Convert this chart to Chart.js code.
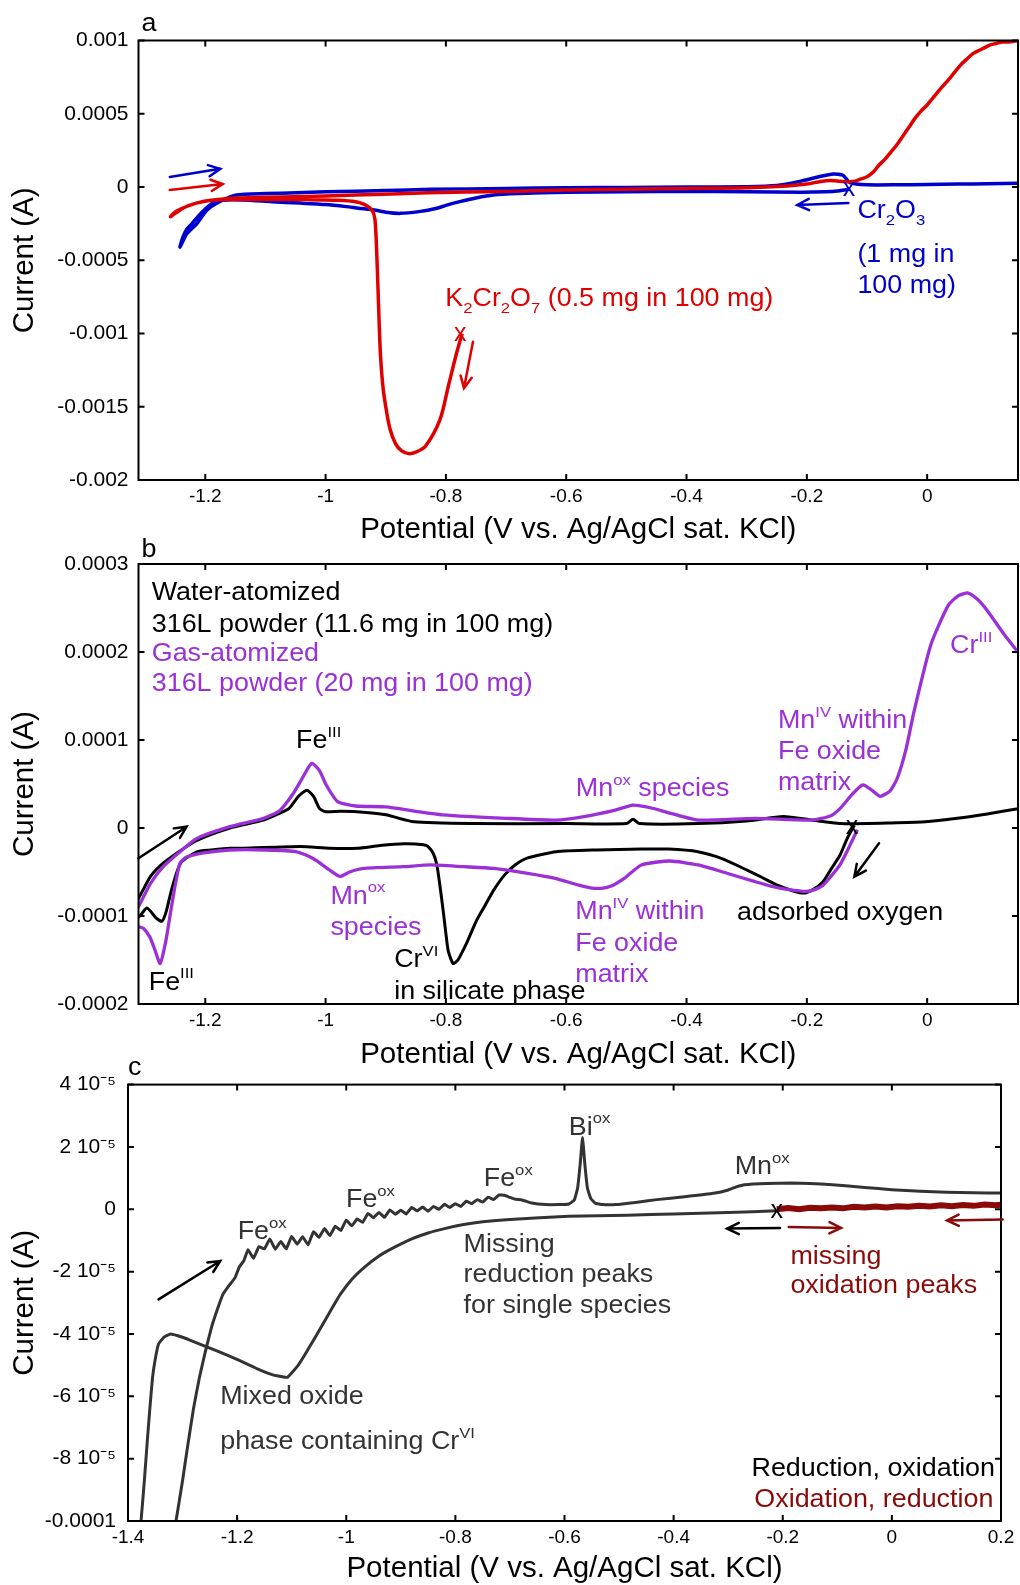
<!DOCTYPE html>
<html>
<head>
<meta charset="utf-8">
<script src="https://cdn.jsdelivr.net/npm/chart.js@4/dist/chart.umd.min.js"></script>
<style>
  html, body { margin: 0; padding: 0; background: #fff; }
  #wrap { position: relative; width: 1020px; height: 1585px; overflow: hidden; }
  canvas { position: absolute; left: 0; }
</style>
</head>
<body>
<div id="wrap">
  <canvas id="chartA" width="1020" height="550" style="top:0px"></canvas>
  <canvas id="chartB" width="1020" height="540" style="top:535px"></canvas>
  <canvas id="chartC" width="1020" height="527" style="top:1060px"></canvas>
</div>
<script>
const FONT = '"Liberation Sans", Arial, Helvetica, sans-serif';
Chart.defaults.font.family = FONT;
Chart.defaults.color = '#000';

// ---- panel a: potential (V), current (A)
const k2cr2o7Scan = [
  [-0.773,-0.00100],[-0.782,-0.00113],[-0.796,-0.00136],[-0.810,-0.00159],[-0.834,-0.00177],
  [-0.850,-0.00181],[-0.862,-0.00182],[-0.874,-0.00180],[-0.884,-0.00175],[-0.893,-0.00165],
  [-0.900,-0.00150],[-0.905,-0.00135],[-0.909,-0.00113],[-0.912,-0.00080],[-0.915,-0.00045],
  [-0.918,-0.00022],[-0.923,-0.000157],[-0.935,-0.00012],[-0.950,-0.00010],[-0.980,-0.00009],
  [-1.030,-0.000086],[-1.090,-0.000085],[-1.150,-0.000085],[-1.190,-0.00009],[-1.215,-0.00011],
  [-1.235,-0.00014],[-1.250,-0.00017],[-1.258,-0.000203],[-1.250,-0.00018],[-1.235,-0.00014],
  [-1.215,-0.00011],[-1.190,-0.00009],[-1.150,-0.000075],[-1.100,-0.00007],[-1.050,-0.000066],
  [-0.950,-0.000055],[-0.830,-0.00004],[-0.700,-0.00003],[-0.600,-0.00002],[-0.500,-0.000015],
  [-0.400,-0.00001],[-0.300,-0.000005],[-0.233,0.000007],[-0.200,0.00002],[-0.177,0.000038],
  [-0.161,0.000045],[-0.145,0.00004],[-0.133,0.000035],[-0.120,0.00004],[-0.110,0.000055],
  [-0.100,0.00007],[-0.090,0.0001],[-0.080,0.00015],[-0.070,0.00019],[-0.060,0.00024],
  [-0.050,0.00029],[-0.040,0.00035],[-0.030,0.00041],[-0.020,0.00047],[-0.010,0.00052],
  [0.000,0.00056],[0.010,0.00061],[0.020,0.00066],[0.035,0.00073],[0.045,0.00078],
  [0.055,0.00083],[0.065,0.00087],[0.076,0.00091],[0.085,0.00093],[0.095,0.00095],
  [0.105,0.00097],[0.115,0.00098],[0.125,0.00099],[0.135,0.00099],[0.151,0.00100]
];
const cr2o3Scan = [
  [-0.129,-0.000014],[-0.145,-0.000025],[-0.170,-0.000033],[-0.210,-0.000036],[-0.300,-0.000032],
  [-0.400,-0.00003],[-0.500,-0.000032],[-0.600,-0.000036],[-0.680,-0.000045],[-0.721,-0.000055],
  [-0.750,-0.000075],[-0.777,-0.0001],[-0.800,-0.000125],[-0.815,-0.000145],[-0.845,-0.000168],
  [-0.876,-0.00018],[-0.900,-0.000172],[-0.919,-0.000157],[-0.945,-0.000145],[-0.966,-0.000134],
  [-1.000,-0.00012],[-1.042,-0.00011],[-1.090,-0.0001],[-1.136,-0.000089],[-1.165,-0.000088],
  [-1.184,-0.0001],[-1.200,-0.00015],[-1.212,-0.0002],[-1.222,-0.00025],[-1.231,-0.00029],
  [-1.238,-0.00035],[-1.242,-0.00041],[-1.231,-0.00032],[-1.214,-0.00025],[-1.198,-0.00016],
  [-1.181,-0.00011],[-1.148,-0.000055],[-1.100,-0.000045],[-1.048,-0.000039],[-1.000,-0.000033],
  [-0.900,-0.000024],[-0.826,-0.000016],[-0.700,-0.00001],[-0.600,-0.000005],[-0.500,-0.000003],
  [-0.400,0],[-0.300,0.000002],[-0.250,0.00001],[-0.210,0.00004],[-0.180,0.00007],
  [-0.156,0.000089],[-0.140,0.00008],[-0.128,0.00003],[-0.100,0.000015],[-0.050,0.000015],
  [0.000,0.000017],[0.050,0.00002],[0.100,0.000022],[0.151,0.000025]
];

// ---- panel b
const gasAtomScan = [
  [-0.116,-0.02e-4],[-0.130,-0.22e-4],[-0.145,-0.42e-4],[-0.160,-0.55e-4],[-0.173,-0.65e-4],
  [-0.187,-0.70e-4],[-0.201,-0.72e-4],[-0.230,-0.70e-4],[-0.260,-0.66e-4],[-0.286,-0.61e-4],
  [-0.330,-0.52e-4],[-0.381,-0.42e-4],[-0.428,-0.375e-4],[-0.475,-0.42e-4],[-0.503,-0.57e-4],
  [-0.525,-0.66e-4],[-0.541,-0.685e-4],[-0.560,-0.68e-4],[-0.579,-0.65e-4],[-0.620,-0.57e-4],
  [-0.664,-0.515e-4],[-0.721,-0.46e-4],[-0.770,-0.44e-4],[-0.826,-0.42e-4],[-0.870,-0.44e-4],
  [-0.937,-0.46e-4],[-0.960,-0.50e-4],[-0.976,-0.55e-4],[-0.993,-0.48e-4],[-1.020,-0.35e-4],
  [-1.048,-0.27e-4],[-1.100,-0.25e-4],[-1.159,-0.25e-4],[-1.200,-0.28e-4],[-1.231,-0.33e-4],
  [-1.242,-0.40e-4],[-1.250,-0.65e-4],[-1.258,-0.97e-4],[-1.266,-1.30e-4],[-1.275,-1.54e-4],
  [-1.283,-1.40e-4],[-1.292,-1.24e-4],[-1.303,-1.14e-4],[-1.311,-1.12e-4],[-1.325,-1.05e-4],
  [-1.325,-1.00e-4],[-1.311,-0.89e-4],[-1.291,-0.63e-4],[-1.270,-0.44e-4],[-1.242,-0.27e-4],
  [-1.214,-0.12e-4],[-1.159,0.015e-4],[-1.103,0.11e-4],[-1.076,0.20e-4],[-1.054,0.39e-4],
  [-1.040,0.55e-4],[-1.023,0.735e-4],[-1.010,0.65e-4],[-0.999,0.489e-4],[-0.980,0.30e-4],
  [-0.950,0.25e-4],[-0.900,0.24e-4],[-0.850,0.19e-4],[-0.806,0.15e-4],[-0.700,0.11e-4],
  [-0.617,0.09e-4],[-0.570,0.13e-4],[-0.520,0.20e-4],[-0.489,0.26e-4],[-0.460,0.23e-4],
  [-0.428,0.17e-4],[-0.381,0.09e-4],[-0.286,0.11e-4],[-0.192,0.09e-4],[-0.160,0.14e-4],
  [-0.145,0.22e-4],[-0.125,0.38e-4],[-0.107,0.49e-4],[-0.092,0.43e-4],[-0.078,0.36e-4],
  [-0.062,0.42e-4],[-0.050,0.56e-4],[-0.035,0.90e-4],[-0.022,1.32e-4],[0.006,2.08e-4],
  [0.035,2.53e-4],[0.052,2.64e-4],[0.068,2.67e-4],[0.085,2.59e-4],[0.101,2.46e-4],
  [0.129,2.19e-4],[0.151,2.00e-4]
];
const waterAtomScan = [
  [-0.121,0.03e-4],[-0.133,-0.12e-4],[-0.145,-0.31e-4],[-0.160,-0.47e-4],[-0.173,-0.61e-4],
  [-0.190,-0.70e-4],[-0.206,-0.74e-4],[-0.225,-0.71e-4],[-0.249,-0.65e-4],[-0.275,-0.56e-4],
  [-0.305,-0.46e-4],[-0.340,-0.35e-4],[-0.381,-0.27e-4],[-0.430,-0.24e-4],[-0.475,-0.24e-4],
  [-0.550,-0.25e-4],[-0.617,-0.27e-4],[-0.664,-0.34e-4],[-0.685,-0.42e-4],[-0.702,-0.53e-4],
  [-0.720,-0.70e-4],[-0.735,-0.88e-4],[-0.749,-1.05e-4],[-0.765,-1.30e-4],[-0.780,-1.50e-4],
  [-0.788,-1.54e-4],[-0.796,-1.40e-4],[-0.800,-1.20e-4],[-0.804,-0.97e-4],[-0.810,-0.65e-4],
  [-0.815,-0.42e-4],[-0.821,-0.29e-4],[-0.830,-0.21e-4],[-0.837,-0.19e-4],[-0.870,-0.18e-4],
  [-0.910,-0.20e-4],[-0.948,-0.23e-4],[-0.993,-0.23e-4],[-1.042,-0.21e-4],[-1.136,-0.23e-4],
  [-1.159,-0.23e-4],[-1.190,-0.25e-4],[-1.214,-0.27e-4],[-1.241,-0.40e-4],[-1.256,-0.70e-4],
  [-1.265,-0.95e-4],[-1.272,-1.06e-4],[-1.282,-1.02e-4],[-1.297,-0.91e-4],[-1.311,-1.01e-4],
  [-1.325,-0.95e-4],[-1.325,-0.92e-4],[-1.311,-0.80e-4],[-1.291,-0.55e-4],[-1.270,-0.40e-4],
  [-1.242,-0.26e-4],[-1.214,-0.14e-4],[-1.159,0.0],[-1.103,0.09e-4],[-1.076,0.17e-4],
  [-1.061,0.22e-4],[-1.045,0.36e-4],[-1.031,0.43e-4],[-1.020,0.36e-4],[-1.010,0.22e-4],
  [-1.000,0.185e-4],[-0.976,0.19e-4],[-0.948,0.185e-4],[-0.900,0.15e-4],[-0.853,0.07e-4],
  [-0.758,0.05e-4],[-0.600,0.05e-4],[-0.500,0.05e-4],[-0.489,0.10e-4],[-0.478,0.05e-4],
  [-0.381,0.05e-4],[-0.300,0.08e-4],[-0.239,0.13e-4],[-0.192,0.09e-4],[-0.145,0.05e-4],
  [-0.050,0.06e-4],[-0.003,0.07e-4],[0.050,0.11e-4],[0.100,0.16e-4],[0.151,0.22e-4]
];

// ---- panel c
const reductionFirstScan = [
  [-0.211,-0.05e-5],[-0.300,-0.10e-5],[-0.400,-0.15e-5],[-0.485,-0.19e-5],[-0.592,-0.22e-5],
  [-0.700,-0.33e-5],[-0.750,-0.40e-5],[-0.785,-0.49e-5],[-0.820,-0.62e-5],[-0.850,-0.76e-5],
  [-0.880,-0.95e-5],[-0.914,-1.24e-5],[-0.940,-1.50e-5],[-0.968,-1.88e-5],[-0.990,-2.25e-5],
  [-1.011,-2.73e-5],[-1.027,-3.20e-5],[-1.043,-3.69e-5],[-1.060,-4.20e-5],[-1.075,-4.64e-5],
  [-1.090,-5.05e-5],[-1.108,-5.39e-5],[-1.125,-5.35e-5],[-1.140,-5.28e-5],[-1.165,-5.10e-5],
  [-1.194,-4.86e-5],[-1.215,-4.70e-5],[-1.237,-4.54e-5],[-1.265,-4.35e-5],[-1.290,-4.17e-5],
  [-1.310,-4.05e-5],[-1.322,-4.00e-5],[-1.334,-4.10e-5],[-1.344,-4.32e-5],[-1.350,-4.80e-5],
  [-1.355,-5.39e-5],[-1.360,-6.40e-5],[-1.365,-7.52e-5],[-1.370,-8.70e-5],[-1.376,-9.97e-5],
  [-1.380,-10.5e-5],[-1.318,-10.5e-5],[-1.312,-10.0e-5],[-1.300,-8.70e-5],[-1.290,-7.52e-5],
  [-1.280,-6.40e-5],[-1.269,-5.39e-5],[-1.258,-4.55e-5],[-1.247,-3.79e-5],[-1.236,-3.20e-5],
  [-1.226,-2.73e-5],[-1.215,-2.45e-5],[-1.204,-2.20e-5],[-1.196,-1.85e-5],[-1.188,-1.66e-5],
  [-1.180,-1.30e-5],[-1.170,-1.57e-5],[-1.160,-1.20e-5],[-1.150,-1.27e-5],[-1.140,-0.95e-5],
  [-1.130,-1.28e-5],[-1.120,-1.03e-5],[-1.110,-1.27e-5],[-1.100,-0.87e-5],[-1.090,-1.12e-5],
  [-1.080,-0.88e-5],[-1.070,-1.14e-5],[-1.060,-0.72e-5],[-1.050,-0.90e-5],[-1.040,-0.62e-5],
  [-1.030,-0.84e-5],[-1.020,-0.54e-5],[-1.010,-0.68e-5],[-1.000,-0.35e-5],[-0.990,-0.53e-5],
  [-0.980,-0.31e-5],[-0.970,-0.42e-5],[-0.960,-0.13e-5],[-0.950,-0.27e-5],[-0.940,-0.10e-5],
  [-0.930,-0.26e-5],[-0.920,-0.02e-5],[-0.910,-0.16e-5],[-0.900,-0.03e-5],[-0.890,-0.15e-5],
  [-0.880,0.06e-5],[-0.870,-0.05e-5],[-0.860,0.07e-5],[-0.850,-0.06e-5],[-0.840,0.09e-5],
  [-0.830,0.00e-5],[-0.820,0.16e-5],[-0.810,0.06e-5],[-0.800,0.18e-5],[-0.790,0.09e-5],
  [-0.780,0.26e-5],[-0.770,0.18e-5],[-0.760,0.31e-5],[-0.750,0.23e-5],[-0.740,0.39e-5],
  [-0.730,0.31e-5],[-0.720,0.46e-5],[-0.710,0.45e-5],[-0.700,0.38e-5],
  [-0.690,0.32e-5],[-0.678,0.30e-5],[-0.660,0.20e-5],[-0.635,0.15e-5],[-0.610,0.15e-5],
  [-0.592,0.17e-5],[-0.582,0.30e-5],[-0.576,0.68e-5],[-0.571,1.50e-5],[-0.567,2.30e-5],
  [-0.563,1.50e-5],[-0.558,0.68e-5],[-0.552,0.35e-5],[-0.544,0.20e-5],[-0.530,0.15e-5],
  [-0.506,0.15e-5],[-0.470,0.22e-5],[-0.431,0.31e-5],[-0.380,0.40e-5],[-0.324,0.52e-5],
  [-0.300,0.62e-5],[-0.285,0.72e-5],[-0.270,0.79e-5],[-0.230,0.83e-5],[-0.184,0.84e-5],
  [-0.150,0.83e-5],[-0.109,0.79e-5],[-0.050,0.70e-5],[0.000,0.63e-5],[0.052,0.58e-5],
  [0.100,0.55e-5],[0.150,0.53e-5],[0.200,0.52e-5]
];
const oxidationFirstScan = [
  [-0.211,0.00e-5],[-0.190,0.04e-5],[-0.170,0.00e-5],[-0.150,0.05e-5],[-0.130,0.03e-5],
  [-0.110,0.06e-5],[-0.090,0.03e-5],[-0.070,0.08e-5],[-0.050,0.06e-5],[-0.030,0.09e-5],
  [-0.010,0.06e-5],[0.010,0.10e-5],[0.030,0.08e-5],[0.050,0.11e-5],[0.070,0.09e-5],
  [0.090,0.13e-5],[0.110,0.10e-5],[0.130,0.14e-5],[0.150,0.11e-5],[0.170,0.15e-5],
  [0.190,0.13e-5],[0.203,0.15e-5]
];

// ---- ticks
const xTicksAB = [-1.2, -1, -0.8, -0.6, -0.4, -0.2, 0];
const xLabelsAB = ['-1.2', '-1', '-0.8', '-0.6', '-0.4', '-0.2', '0'];
const yTicksA = [-0.002, -0.0015, -0.001, -0.0005, 0, 0.0005, 0.001];
const yLabelsA = ['-0.002', '-0.0015', '-0.001', '-0.0005', '0', '0.0005', '0.001'];
const yTicksB = [-0.0002, -0.0001, 0, 0.0001, 0.0002, 0.0003];
const yLabelsB = ['-0.0002', '-0.0001', '0', '0.0001', '0.0002', '0.0003'];
const xTicksC = [-1.4, -1.2, -1, -0.8, -0.6, -0.4, -0.2, 0, 0.2];
const xLabelsC = ['-1.4', '-1.2', '-1', '-0.8', '-0.6', '-0.4', '-0.2', '0', '0.2'];
const yTicksC = [-0.0001, -8e-5, -6e-5, -4e-5, -2e-5, 0, 2e-5, 4e-5];
const yLabelsC = ['-0.0001', '-8 10\u207B\u2075', '-6 10\u207B\u2075', '-4 10\u207B\u2075', '-2 10\u207B\u2075', '0', '2 10\u207B\u2075', '4 10\u207B\u2075'];

const RED = '#e00000', BLUE = '#0000cc', PURPLE = '#9b30d8', GRAY = '#333333', DARKRED = '#8a0a0a';
const TEXT_STRETCH = 1.075;

// text drawn with ^{sup} and _{sub}
function richParts(str) {
  const parts = [];
  const re = /([\^_])\{([^}]*)\}|([^\^_]+)/g;
  let m;
  while ((m = re.exec(str))) {
    if (m[3]) parts.push({ t: m[3], k: '' });
    else parts.push({ t: m[2], k: m[1] });
  }
  return parts;
}
function drawRich(ctx, str, x, y, size, color, align, stretch) {
  const sx = stretch || 1;
  const parts = richParts(str);
  const small = size * 0.62;
  let w = 0;
  parts.forEach(p => {
    ctx.font = (p.k ? small : size) + 'px ' + FONT;
    p.w = ctx.measureText(p.t).width;
    w += p.w;
  });
  const start = align === 'right' ? x - w * sx : align === 'center' ? x - w * sx / 2 : x;
  ctx.save();
  ctx.translate(start, y);
  ctx.scale(sx, 1);
  ctx.fillStyle = color;
  ctx.textAlign = 'left';
  ctx.textBaseline = 'alphabetic';
  let cx = 0;
  parts.forEach(p => {
    ctx.font = (p.k ? small : size) + 'px ' + FONT;
    const dy = p.k === '^' ? -0.45 * size : p.k === '_' ? 0.3 * size : 0;
    ctx.fillText(p.t, cx, dy);
    cx += p.w;
  });
  ctx.restore();
}
function drawArrow(ctx, x1, y1, x2, y2, color) {
  const ang = Math.atan2(y2 - y1, x2 - x1), h = 13;
  ctx.strokeStyle = color;
  ctx.lineWidth = 2.5;
  ctx.lineCap = 'round';
  ctx.beginPath();
  ctx.moveTo(x1, y1);
  ctx.lineTo(x2, y2);
  ctx.moveTo(x2 - h * Math.cos(ang - 0.45), y2 - h * Math.sin(ang - 0.45));
  ctx.lineTo(x2, y2);
  ctx.lineTo(x2 - h * Math.cos(ang + 0.45), y2 - h * Math.sin(ang + 0.45));
  ctx.stroke();
}

// frame with inward ticks, arrows, labels
const cvDecor = {
  id: 'cvDecor',
  afterDatasetsDraw(chart, args, opts) {
    const { ctx, chartArea: a } = chart;
    const sx = chart.scales.x, sy = chart.scales.y;
    ctx.save();
    ctx.strokeStyle = '#000';
    ctx.lineWidth = 2;
    ctx.strokeRect(a.left, a.top, a.right - a.left, a.bottom - a.top);
    ctx.beginPath();
    sx.ticks.forEach(t => {
      const px = sx.getPixelForValue(t.value);
      ctx.moveTo(px, a.bottom); ctx.lineTo(px, a.bottom - 6);
      ctx.moveTo(px, a.top); ctx.lineTo(px, a.top + 6);
    });
    sy.ticks.forEach(t => {
      const py = sy.getPixelForValue(t.value);
      ctx.moveTo(a.left, py); ctx.lineTo(a.left + 6, py);
      ctx.moveTo(a.right, py); ctx.lineTo(a.right - 6, py);
    });
    ctx.stroke();
    (opts.arrows || []).forEach(ar => drawArrow(ctx,
      sx.getPixelForValue(ar.from[0]), sy.getPixelForValue(ar.from[1]),
      sx.getPixelForValue(ar.to[0]), sy.getPixelForValue(ar.to[1]), ar.color));
    (opts.labels || []).forEach(l => {
      const size = l.size || 25;
      const px = sx.getPixelForValue(l.x);
      const py = sy.getPixelForValue(l.y) + (l.mark ? 0.26 : 0.358) * size;
      drawRich(ctx, l.text, px, py, size, l.color || '#000', l.align || 'left', l.mark ? 1 : TEXT_STRETCH);
    });
    drawRich(ctx, opts.letter, a.left + opts.letterDx, opts.letterY, 25, '#000', 'left', TEXT_STRETCH);
    ctx.restore();
  }
};

function makeChart(id, cfg) {
  return new Chart(document.getElementById(id), {
    type: 'scatter',
    data: {
      datasets: cfg.series.map(s => ({
        data: s.points.map(p => ({ x: p[0], y: p[1] })),
        showLine: true,
        borderColor: s.color,
        borderWidth: s.width,
        pointRadius: 0,
        tension: s.tension,
        fill: false
      }))
    },
    options: {
      responsive: false,
      animation: false,
      layout: { padding: { left: 0, right: cfg.padRight, top: cfg.padTop, bottom: 0 } },
      plugins: { legend: { display: false }, tooltip: { enabled: false }, cvDecor: cfg.decor },
      scales: {
        x: {
          type: 'linear', min: cfg.xMin, max: cfg.xMax,
          afterBuildTicks: s => { s.ticks = cfg.xTicks.map(v => ({ value: v })); },
          afterFit: s => { s.height = cfg.xAxisH; },
          grid: { display: false, drawTicks: false },
          border: { display: false },
          ticks: { autoSkip: false, maxRotation: 0, padding: 5, font: { size: 19 }, color: '#000',
                   callback: (v, i) => cfg.xLabels[i] },
          title: { display: true, text: 'Potential (V vs. Ag/AgCl sat. KCl)', font: { size: 29.5 }, color: '#000',
                   padding: { top: 0, bottom: cfg.titlePad } }
        },
        y: {
          type: 'linear', min: cfg.yMin, max: cfg.yMax,
          afterBuildTicks: s => { s.ticks = cfg.yTicks.map(v => ({ value: v })); },
          afterFit: s => { s.width = cfg.yAxisW; },
          grid: { display: false, drawTicks: false },
          border: { display: false },
          ticks: { autoSkip: false, padding: cfg.yPad, font: { size: 21 }, color: '#000',
                   callback: (v, i) => cfg.yLabels[i] },
          title: { display: true, text: 'Current (A)', font: { size: 29.5 }, color: '#000',
                   padding: { top: 7.6, bottom: 0 } }
        }
      }
    },
    plugins: [cvDecor]
  });
}

makeChart('chartA', {
  series: [
    { points: k2cr2o7Scan, color: RED, width: 3.5, tension: 0.3 },
    { points: cr2o3Scan, color: BLUE, width: 3.5, tension: 0.2 }
  ],
  xMin: -1.311, xMax: 0.151, yMin: -0.002, yMax: 0.001,
  xTicks: xTicksAB, xLabels: xLabelsAB, yTicks: yTicksA, yLabels: yLabelsA,
  padTop: 40.5, padRight: 2, xAxisH: 70, yAxisW: 138.5, titlePad: 2.3, yPad: 10,
  decor: {
    letter: 'a', letterDx: 3, letterY: 31,
    labels: [
      { text: 'K_{2}Cr_{2}O_{7} (0.5 mg in 100 mg)', x: -0.801, y: -0.000751, color: RED },
      { text: 'x', x: -0.776, y: -0.001007, color: RED, align: 'center', mark: true },
      { text: 'Cr_{2}O_{3}', x: -0.116, y: -0.00015, color: BLUE },
      { text: '(1 mg in', x: -0.116, y: -0.000449, color: BLUE },
      { text: '100 mg)', x: -0.116, y: -0.000662, color: BLUE },
      { text: 'x', x: -0.130, y: -0.0000137, color: BLUE, align: 'center', mark: true }
    ],
    arrows: [
      { from: [-1.259, 0.0000689], to: [-1.175, 0.000124], color: BLUE },
      { from: [-1.259, -0.0000205], to: [-1.171, 0.0000205], color: RED },
      { from: [-0.755, -0.001056], to: [-0.770, -0.001373], color: RED },
      { from: [-0.131, -0.000109], to: [-0.216, -0.000123], color: BLUE }
    ]
  }
});

makeChart('chartB', {
  series: [
    { points: gasAtomScan, color: PURPLE, width: 3.3, tension: 0.2 },
    { points: waterAtomScan, color: '#000', width: 3, tension: 0.2 }
  ],
  xMin: -1.311, xMax: 0.151, yMin: -0.0002, yMax: 0.0003,
  xTicks: xTicksAB, xLabels: xLabelsAB, yTicks: yTicksB, yLabels: yLabelsB,
  padTop: 29, padRight: 2, xAxisH: 71, yAxisW: 138.5, titlePad: 2.9, yPad: 10,
  decor: {
    letter: 'b', letterDx: 3, letterY: 22,
    labels: [
      { text: 'Water-atomized', x: -1.289, y: 2.693e-4 },
      { text: '316L powder (11.6 mg in 100 mg)', x: -1.289, y: 2.333e-4 },
      { text: 'Gas-atomized', x: -1.289, y: 2.0e-4, color: PURPLE },
      { text: '316L powder (20 mg in 100 mg)', x: -1.289, y: 1.659e-4, color: PURPLE },
      { text: 'Fe^{III}', x: -1.049, y: 1.011e-4 },
      { text: 'Mn^{ox} species', x: -0.584, y: 0.46e-4, color: PURPLE },
      { text: 'Mn^{IV} within', x: -0.248, y: 1.239e-4, color: PURPLE },
      { text: 'Fe oxide', x: -0.248, y: 0.886e-4, color: PURPLE },
      { text: 'matrix', x: -0.248, y: 0.534e-4, color: PURPLE },
      { text: 'Cr^{III}', x: 0.038, y: 2.09e-4, color: PURPLE },
      { text: 'Mn^{ox}', x: -0.992, y: -0.757e-4, color: PURPLE },
      { text: 'species', x: -0.992, y: -1.114e-4, color: PURPLE },
      { text: 'Cr^{VI}', x: -0.886, y: -1.477e-4 },
      { text: 'in silicate phase', x: -0.886, y: -1.838e-4 },
      { text: 'Fe^{III}', x: -1.294, y: -1.734e-4 },
      { text: 'Mn^{IV} within', x: -0.585, y: -0.932e-4, color: PURPLE },
      { text: 'Fe oxide', x: -0.585, y: -1.295e-4, color: PURPLE },
      { text: 'matrix', x: -0.585, y: -1.653e-4, color: PURPLE },
      { text: 'adsorbed oxygen', x: -0.316, y: -0.943e-4 },
      { text: 'x', x: -0.125, y: 0.011e-4, align: 'center', mark: true }
    ],
    arrows: [
      { from: [-1.311, -0.344e-4], to: [-1.231, 0.015e-4], color: '#000' },
      { from: [-0.080, -0.174e-4], to: [-0.121, -0.553e-4], color: '#000' }
    ]
  }
});

makeChart('chartC', {
  series: [
    { points: oxidationFirstScan, color: DARKRED, width: 6, tension: 0 },
    { points: reductionFirstScan, color: GRAY, width: 3, tension: 0.1 }
  ],
  xMin: -1.4, xMax: 0.2, yMin: -0.0001, yMax: 4e-5,
  xTicks: xTicksC, xLabels: xLabelsC, yTicks: yTicksC, yLabels: yLabelsC,
  padTop: 23, padRight: 19, xAxisH: 66, yAxisW: 128, titlePad: 0, yPad: 12,
  decor: {
    letter: 'c', letterDx: 0, letterY: 15,
    labels: [
      { text: 'Fe^{ox}', x: -1.199, y: -0.671e-5, color: GRAY },
      { text: 'Fe^{ox}', x: -1.0005, y: 0.361e-5, color: GRAY },
      { text: 'Fe^{ox}', x: -0.748, y: 1.029e-5, color: GRAY },
      { text: 'Bi^{ox}', x: -0.592, y: 2.685e-5, color: GRAY },
      { text: 'Mn^{ox}', x: -0.288, y: 1.406e-5, color: GRAY },
      { text: 'Missing', x: -0.785, y: -1.087e-5, color: GRAY },
      { text: 'reduction peaks', x: -0.785, y: -2.061e-5, color: GRAY },
      { text: 'for single species', x: -0.785, y: -3.046e-5, color: GRAY },
      { text: 'missing', x: -0.186, y: -1.47e-5, color: DARKRED },
      { text: 'oxidation peaks', x: -0.186, y: -2.406e-5, color: DARKRED },
      { text: 'Mixed oxide', x: -1.231, y: -5.944e-5, color: GRAY },
      { text: 'phase containing Cr^{VI}', x: -1.231, y: -7.414e-5, color: GRAY },
      { text: 'Reduction, oxidation', x: 0.189, y: -8.268e-5, align: 'right' },
      { text: 'Oxidation, reduction', x: 0.186, y: -9.278e-5, color: DARKRED, align: 'right' },
      { text: 'x', x: -0.211, y: -0.086e-5, align: 'center', mark: true }
    ],
    arrows: [
      { from: [-1.344, -2.89e-5], to: [-1.231, -1.66e-5], color: '#000' },
      { from: [-0.205, -0.60e-5], to: [-0.302, -0.62e-5], color: '#000' },
      { from: [-0.189, -0.57e-5], to: [-0.093, -0.60e-5], color: DARKRED },
      { from: [0.203, -0.33e-5], to: [0.101, -0.36e-5], color: DARKRED }
    ]
  }
});
</script>
</body>
</html>
